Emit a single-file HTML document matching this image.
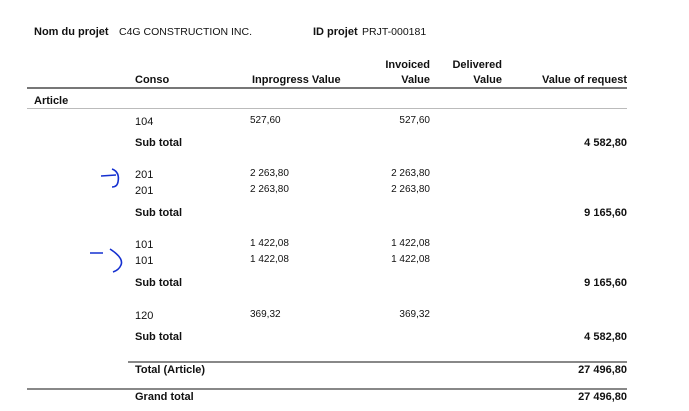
<!DOCTYPE html>
<html><head><meta charset="utf-8"><style>
body{margin:0;width:689px;height:411px;background:#fff;position:relative;overflow:hidden;font-family:"Liberation Sans",sans-serif;color:#111}
.t{position:absolute;line-height:14px;font-size:11px;white-space:nowrap}
.b{font-weight:bold}
.s{font-size:10px}
.r{text-align:right}
.l{position:absolute;height:0}
</style></head><body>
<div class="t b" style="left:34px;top:25px">Nom du projet</div>
<div class="t" style="left:119px;top:25px;font-size:10.5px">C4G CONSTRUCTION INC.</div>
<div class="t b" style="left:313px;top:25px">ID projet</div>
<div class="t" style="left:362px;top:25px;font-size:10.5px">PRJT-000181</div>

<div class="t b" style="left:135px;top:73px">Conso</div>
<div class="t b" style="left:252px;top:73px">Inprogress Value</div>
<div class="t b r" style="right:259px;top:58px">Invoiced</div>
<div class="t b r" style="right:259px;top:73px">Value</div>
<div class="t b r" style="right:187px;top:58px">Delivered</div>
<div class="t b r" style="right:187px;top:73px">Value</div>
<div class="t b r" style="right:62px;top:73px">Value of request</div>
<div class="l" style="left:27px;width:600px;top:87px;border-top:2px solid #777"></div>
<div class="t b" style="left:34px;top:94px">Article</div>
<div class="l" style="left:27px;width:600px;top:108px;border-top:1px solid #bbb"></div>

<div class="t" style="left:135px;top:115px">104</div>
<div class="t s" style="left:250px;top:114px">527,60</div>
<div class="t s r" style="right:259px;top:114px">527,60</div>
<div class="t b" style="left:135px;top:136px">Sub total</div>
<div class="t b r" style="right:62px;top:136px">4 582,80</div>

<div class="t" style="left:135px;top:168px">201</div>
<div class="t s" style="left:250px;top:167px">2 263,80</div>
<div class="t s r" style="right:259px;top:167px">2 263,80</div>
<div class="t" style="left:135px;top:184px">201</div>
<div class="t s" style="left:250px;top:183px">2 263,80</div>
<div class="t s r" style="right:259px;top:183px">2 263,80</div>
<div class="t b" style="left:135px;top:206px">Sub total</div>
<div class="t b r" style="right:62px;top:206px">9 165,60</div>

<div class="t" style="left:135px;top:238px">101</div>
<div class="t s" style="left:250px;top:237px">1 422,08</div>
<div class="t s r" style="right:259px;top:237px">1 422,08</div>
<div class="t" style="left:135px;top:254px">101</div>
<div class="t s" style="left:250px;top:253px">1 422,08</div>
<div class="t s r" style="right:259px;top:253px">1 422,08</div>
<div class="t b" style="left:135px;top:276px">Sub total</div>
<div class="t b r" style="right:62px;top:276px">9 165,60</div>

<div class="t" style="left:135px;top:309px">120</div>
<div class="t s" style="left:250px;top:308px">369,32</div>
<div class="t s r" style="right:259px;top:308px">369,32</div>
<div class="t b" style="left:135px;top:330px">Sub total</div>
<div class="t b r" style="right:62px;top:330px">4 582,80</div>

<div class="l" style="left:128px;width:499px;top:361px;border-top:2px solid #888"></div>
<div class="t b" style="left:135px;top:363px">Total (Article)</div>
<div class="t b r" style="right:62px;top:363px">27 496,80</div>
<div class="l" style="left:27px;width:600px;top:388px;border-top:2px solid #888"></div>
<div class="t b" style="left:135px;top:390px">Grand total</div>
<div class="t b r" style="right:62px;top:390px">27 496,80</div>

<svg style="position:absolute;left:0;top:0" width="689" height="411">
<path d="M101 176 L116 175 M112 169 Q120 172 118 182 Q117 187 112 187" stroke="#1530d0" stroke-width="1.6" fill="none"/>
<path d="M90 253 L103 253 M110 249 Q124 258 121 265 Q119 270 113 272" stroke="#1530d0" stroke-width="1.6" fill="none"/>
</svg>
</body></html>
